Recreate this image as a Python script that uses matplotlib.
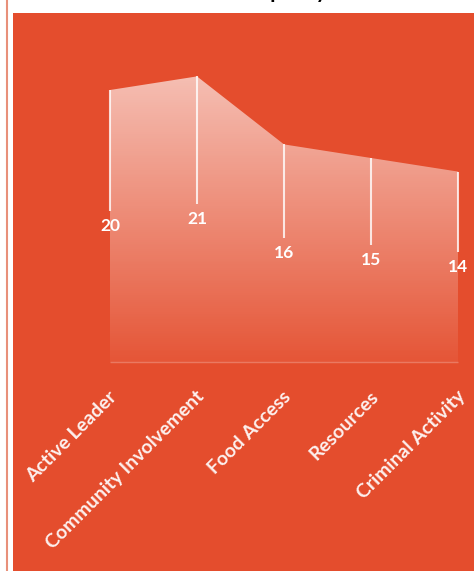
import numpy as np
import matplotlib.pyplot as plt
from matplotlib.patches import Rectangle

categories = ['Active Leader', 'Community Involvement', 'Food Access',
              'Resources', 'Criminal Activity']
values = [20, 21, 16, 15, 14]
title = 'Capacity'

bg = '#E44D2D'

fig = plt.figure(figsize=(4.74, 5.71), dpi=100)
fig.patch.set_facecolor('white')

# title mostly cut off above the picture
fig.text(0.605, 1.0 + 1.5 / 571, title, ha='center', va='baseline', fontsize=15,
         fontweight='bold', color='black', family='Lato')

ax = fig.add_axes([0, 0, 1, 1])
ax.patch.set_alpha(0)
ax.axis('off')

# orange panel + thin salmon line on the left
ax.add_patch(Rectangle((13 / 474, 0), 1, 1 - 13 / 571, transform=fig.transFigure,
                       facecolor=bg, edgecolor='none', zorder=0))
ax.add_line(plt.Line2D([6.5 / 474, 6.5 / 474], [0, 1], transform=fig.transFigure,
                       color='#E8907A', lw=1.5, zorder=0))

x = np.arange(len(values))
poly = ax.fill_between(x, 0, values, facecolor='none', edgecolor='none')

# white gradient fading towards the base
top = max(values)
grad = np.zeros((256, 2, 4))
grad[:, :, :3] = 1.0
grad[:, :, 3] = np.linspace(0.64, 0.05, 256)[:, None]
im = ax.imshow(grad, extent=[x[0], x[-1], 0, top], aspect='auto', origin='upper',
               interpolation='bilinear', zorder=2)
im.set_clip_path(poly.get_paths()[0], transform=ax.transData)
ax.set_xlim(-110 / 87, 364 / 87)
ax.set_ylim(-209 / 13.6, 362 / 13.6)

ax.hlines(0, x[0], x[-1], color='white', alpha=0.25, lw=1, zorder=3)

for i, v in enumerate(values):
    ax.vlines(i, v / 2 + 1.1, v, color='white', alpha=0.8, lw=1.5, zorder=4)
    ax.text(i, v / 2, str(v), ha='center', va='center', color='white',
            fontsize=12.5, fontweight='bold', family='Lato', zorder=5)

for i, c in enumerate(categories):
    ax.text(i - 0.02, -1.9, c, ha='right', va='top', rotation=45,
            rotation_mode='anchor', color='white', fontsize=14,
            family='Lato', fontweight='bold', alpha=0.92)

fig.savefig('out.png', dpi=100)
